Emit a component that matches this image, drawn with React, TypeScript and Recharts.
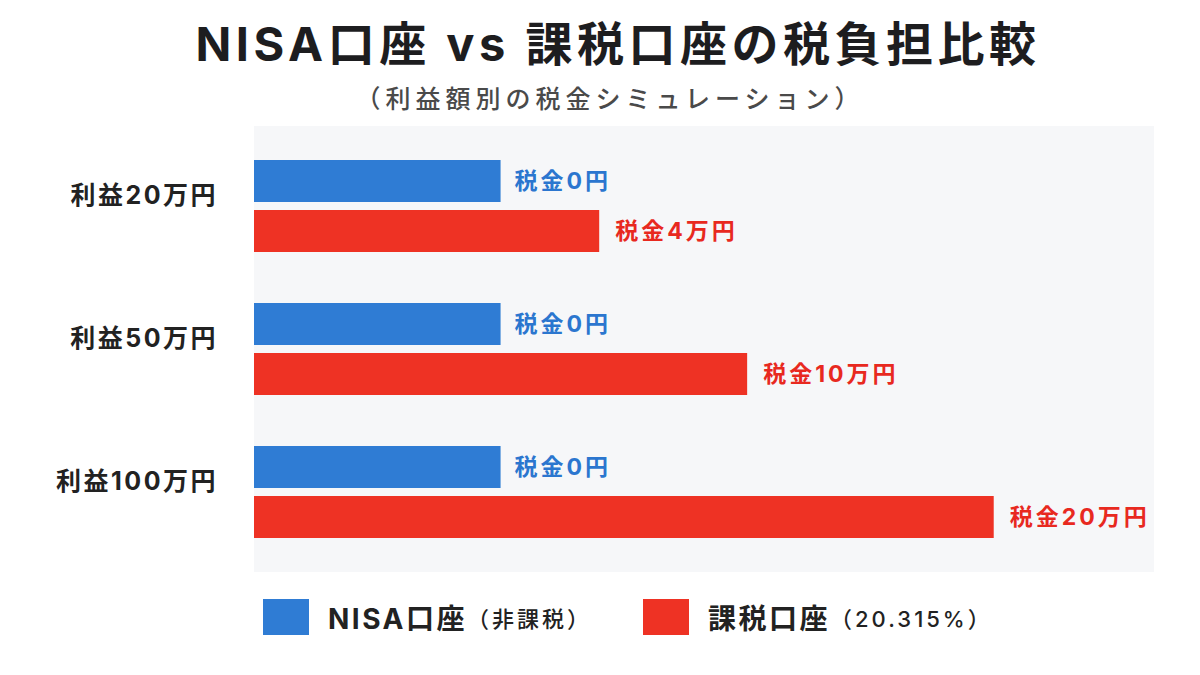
import { BarChart, Bar, XAxis, YAxis, CartesianGrid, LabelList, Legend } from "recharts";

// profit brackets and the tax owed in each account (万円)
const CATEGORIES = ["利益20万円", "利益50万円", "利益100万円"];
const NISA_TAX = [0, 0, 0];
const TAXABLE_TAX = [4, 10, 20];

const SERIES_NAMES = ["NISA口座", "課税口座"];
const SERIES_NOTES = ["（非課税）", "（20.315%）"];

// bars grow from a floor below zero so the 0円 rows still get a visible bar
const AXIS_FLOOR = -10;
const AXIS_CEIL = 26.5;

const BLUE = "#2f7cd4";
const RED = "#ee3224";
const COLORS = [BLUE, RED];
const FONT = 'Inter, "Noto Sans CJK JP", sans-serif';

const data = CATEGORIES.map((name, i) => ({
  name,
  nisa: NISA_TAX[i],
  taxable: TAXABLE_TAX[i],
}));

const taxLabel = (v: number) => (v === 0 ? "税金0円" : `税金${v}万円`);

const CategoryTick = ({ x, y, payload }: any) => (
  <text
    x={x}
    y={y}
    dy={-11}
    textAnchor="end"
    dominantBaseline="central"
    fontFamily={FONT}
    fontSize={25}
    fontWeight={700}
    fill="#222"
    letterSpacing={2.5}
  >
    {payload.value}
  </text>
);

const renderLegend = () => (
  <div style={{ display: "flex", alignItems: "center", fontFamily: FONT }}>
    {SERIES_NAMES.map((name, i) => (
      <div
        key={name}
        style={{ display: "flex", alignItems: "center", marginRight: i === 0 ? 51 : 0 }}
      >
        <span style={{ display: "inline-block", width: 46, height: 36, background: COLORS[i] }} />
        <span
          style={{
            marginLeft: 19,
            fontSize: 28,
            fontWeight: 700,
            color: "#222",
            letterSpacing: 2.5,
          }}
        >
          {name}
        </span>
        <span style={{ fontSize: 22, fontWeight: 500, color: "#222", letterSpacing: 3 }}>
          {SERIES_NOTES[i]}
        </span>
      </div>
    ))}
  </div>
);

export default function App() {
  return (
    <div
      style={{
        position: "absolute",
        left: 0,
        top: 0,
        width: 1200,
        height: 675,
        background: "#fff",
        fontFamily: FONT,
      }}
    >
      <div
        style={{
          position: "absolute",
          top: 20,
          left: 18,
          width: 1200,
          textAlign: "center",
          fontSize: 47,
          lineHeight: "48px",
          fontWeight: 700,
          color: "#1d1d1f",
          letterSpacing: 4.5,
        }}
      >
        NISA口座 vs 課税口座の税負担比較
      </div>
      <div
        style={{
          position: "absolute",
          top: 85,
          left: 10,
          width: 1200,
          textAlign: "center",
          fontSize: 25,
          lineHeight: "28px",
          fontWeight: 500,
          color: "#4a4a4a",
          letterSpacing: 5,
        }}
      >
        （利益額別の税金シミュレーション）
      </div>

      <BarChart
        width={1200}
        height={675}
        data={data}
        layout="vertical"
        margin={{ top: 126, right: 46, bottom: 103, left: 0 }}
        barSize={42}
        barGap={8}
      >
        <CartesianGrid horizontal={false} vertical={false} fill="#f6f7f9" />
        <XAxis type="number" domain={[AXIS_FLOOR, AXIS_CEIL]} hide allowDataOverflow />
        <YAxis
          type="category"
          dataKey="name"
          width={254}
          axisLine={false}
          tickLine={false}
          tickSize={0}
          tickMargin={36}
          padding={{ top: 8, bottom: 9 }}
          tick={<CategoryTick />}
        />
        <Legend
          verticalAlign="middle"
          align="center"
          layout="horizontal"
          content={renderLegend}
          wrapperStyle={{ left: 263, top: 597, width: 800, height: 36 }}
        />
        <Bar
          name={SERIES_NAMES[0]}
          dataKey={(d: any) => [AXIS_FLOOR, d.nisa]}
          fill={BLUE}
          isAnimationActive={false}
        >
          <LabelList
            dataKey="nisa"
            position="right"
            offset={14}
            formatter={(v: any) => taxLabel(v)}
            fill="#2b76cf"
            fontSize={23}
            fontWeight={700}
            fontFamily={FONT}
            letterSpacing={3}
          />
        </Bar>
        <Bar
          name={SERIES_NAMES[1]}
          dataKey={(d: any) => [AXIS_FLOOR, d.taxable]}
          fill={RED}
          isAnimationActive={false}
        >
          <LabelList
            dataKey="taxable"
            position="right"
            offset={16}
            formatter={(v: any) => taxLabel(v)}
            fill="#e8291f"
            fontSize={23}
            fontWeight={700}
            fontFamily={FONT}
            letterSpacing={3}
          />
        </Bar>
      </BarChart>
    </div>
  );
}
